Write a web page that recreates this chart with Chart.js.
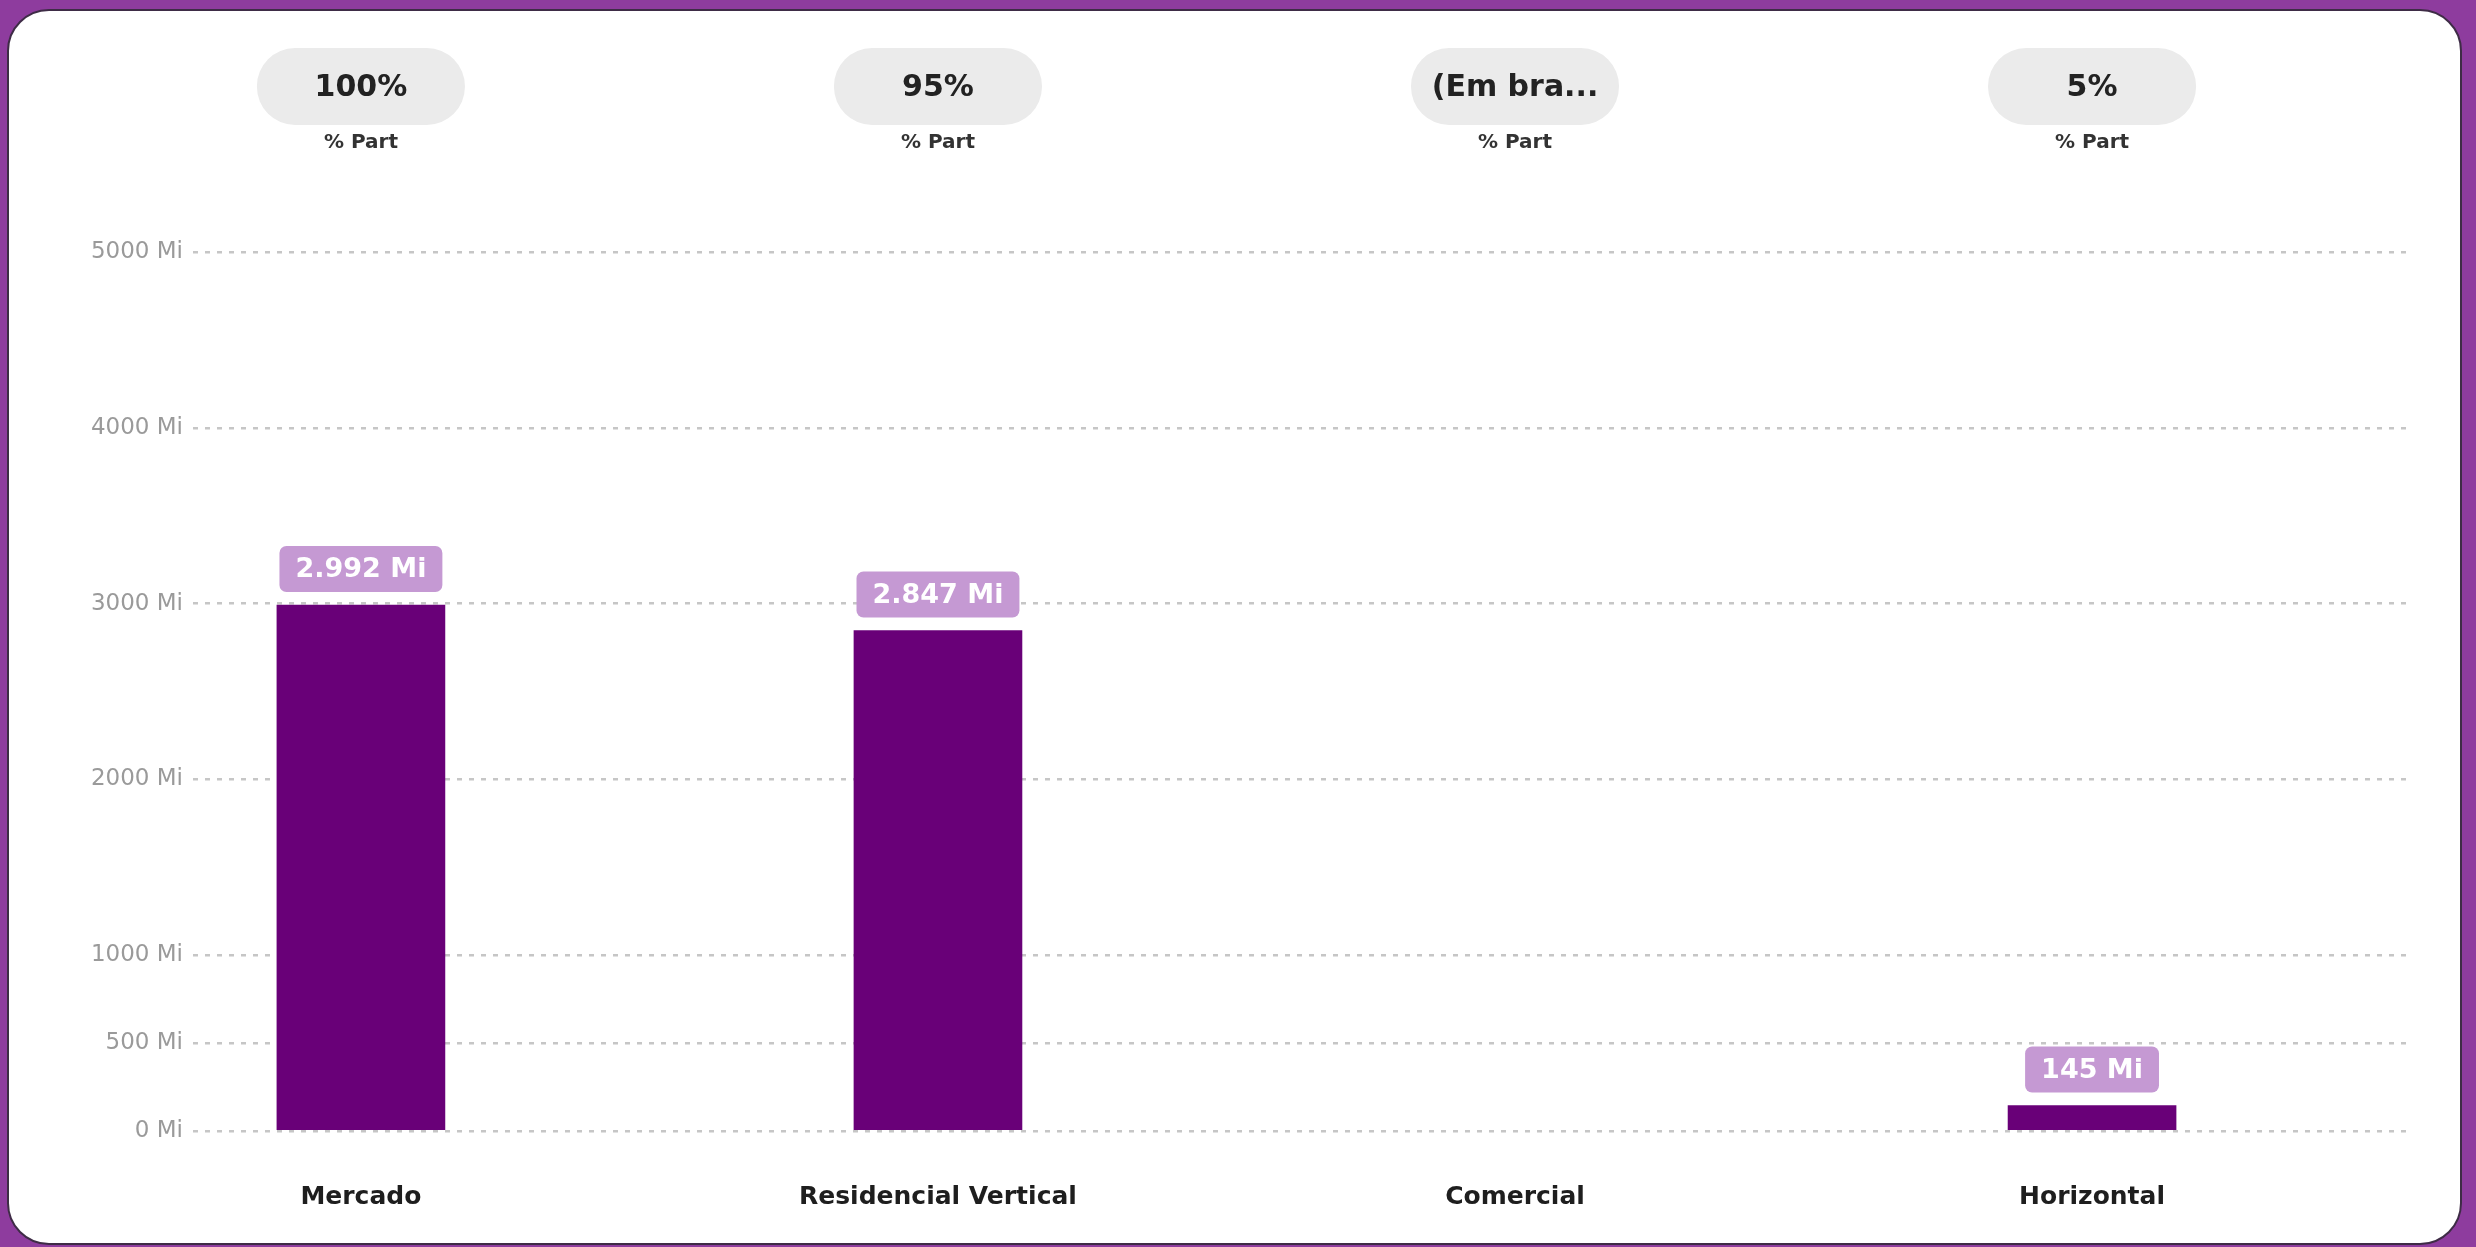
<!DOCTYPE html>
<html>
<head>
<meta charset="utf-8">
<script src="https://cdn.jsdelivr.net/npm/chart.js@4.4.1/dist/chart.umd.min.js"></script>
<style>
  html, body { margin: 0; padding: 0; }
  body { width: 2476px; height: 1247px; background: #8e3c9e; overflow: hidden; position: relative; }
  .panel {
    position: absolute; left: 7px; top: 9px; width: 2451px; height: 1232px;
    background: #ffffff; border: 2px solid #3e2c46; border-radius: 42px;
  }
  #chart { position: absolute; left: 0; top: 0; }
</style>
</head>
<body>
<div class="panel"></div>
<canvas id="chart" width="2476" height="1247"></canvas>
<script>
// dados do gráfico
const categories = ['Mercado', 'Residencial Vertical', 'Comercial', 'Horizontal'];
const values = [2992, 2847, null, 145];
const partValues = ['100%', '95%', '(Em bra...', '5%'];
const partTitle = '% Part';
const yTicks = [0, 500, 1000, 2000, 3000, 4000, 5000];

const FONT = '"DejaVu Sans", "Noto Sans", sans-serif';

function fmtMi(v) {
    return String(v).replace(/\B(?=(\d{3})+(?!\d))/g, '.') + ' Mi';
}

function roundRect(ctx, x, y, w, h, r) {
    ctx.beginPath();
    ctx.moveTo(x + r, y);
    ctx.lineTo(x + w - r, y);
    ctx.arcTo(x + w, y, x + w, y + r, r);
    ctx.lineTo(x + w, y + h - r);
    ctx.arcTo(x + w, y + h, x + w - r, y + h, r);
    ctx.lineTo(x + r, y + h);
    ctx.arcTo(x, y + h, x, y + h - r, r);
    ctx.lineTo(x, y + r);
    ctx.arcTo(x, y, x + r, y, r);
    ctx.closePath();
}

// rótulos de valor acima das barras
const valueLabels = {
    id: 'valueLabels',
    afterDatasetsDraw(chart) {
        const ctx = chart.ctx;
        const meta = chart.getDatasetMeta(0);
        ctx.save();
        ctx.font = 'bold 27px ' + FONT;
        ctx.textAlign = 'center';
        ctx.textBaseline = 'middle';
        meta.data.forEach((bar, i) => {
            const v = values[i];
            if (v === null || v === undefined) return;
            const text = fmtMi(v);
            const w = ctx.measureText(text).width + 32;
            const h = 46;
            const bottom = bar.y - 13;
            ctx.fillStyle = '#c599d3';
            roundRect(ctx, bar.x - w / 2, bottom - h, w, h, 7);
            ctx.fill();
            ctx.fillStyle = '#ffffff';
            ctx.fillText(text, bar.x, bottom - h / 2 + 1);
        });
        ctx.restore();
    }
};

// cartões "% Part" no topo
const partCards = {
    id: 'partCards',
    afterDraw(chart) {
        const ctx = chart.ctx;
        const x = chart.scales.x;
        ctx.save();
        ctx.textAlign = 'center';
        ctx.textBaseline = 'middle';
        categories.forEach((c, i) => {
            const cx = x.getPixelForValue(i);
            ctx.fillStyle = '#ebebeb';
            roundRect(ctx, cx - 104, 48, 208, 77, 38);
            ctx.fill();
            ctx.fillStyle = '#222222';
            ctx.font = 'bold 30px ' + FONT;
            ctx.fillText(partValues[i], cx, 88);
            ctx.fillStyle = '#333333';
            ctx.font = 'bold 20px ' + FONT;
            ctx.fillText(partTitle, cx, 143);
        });
        ctx.restore();
    }
};

const ctx = document.getElementById('chart').getContext('2d');
new Chart(ctx, {
    type: 'bar',
    data: {
        datasets: [{
            data: values.map((v, i) => ({ x: i, y: v })),
            backgroundColor: '#690078',
            borderWidth: 0,
            barThickness: 168
        }]
    },
    options: {
        responsive: false,
        devicePixelRatio: 1,
        animation: false,
        layout: { padding: { top: 252, right: 66, left: 0, bottom: 0 } },
        plugins: { legend: { display: false }, tooltip: { enabled: false } },
        scales: {
            x: {
                type: 'linear',
                offset: false,
                min: -0.291,
                max: 3.551,
                afterBuildTicks: (axis) => { axis.ticks = categories.map((c, i) => ({ value: i })); },
                afterFit: (axis) => { axis.height = 116; },
                grid: { display: false, drawTicks: false },
                border: { display: false },
                ticks: {
                    padding: 51,
                    autoSkip: false,
                    maxRotation: 0,
                    color: '#1e1e1e',
                    font: { family: FONT, size: 25, weight: 'bold' },
                    callback: (v) => categories[v]
                }
            },
            y: {
                min: 0,
                max: 5000,
                afterBuildTicks: (axis) => { axis.ticks = yTicks.map(v => ({ value: v })); },
                afterFit: (axis) => { axis.width = 193; },
                grid: { color: '#c6c6c6', lineWidth: 2.5, drawTicks: false },
                border: { display: false, dash: [5, 7] },
                ticks: {
                    padding: 10,
                    color: '#9a9a9a',
                    font: { family: FONT, size: 23 },
                    callback: (v) => v + ' Mi'
                }
            }
        }
    },
    plugins: [valueLabels, partCards]
});
</script>
</body>
</html>
